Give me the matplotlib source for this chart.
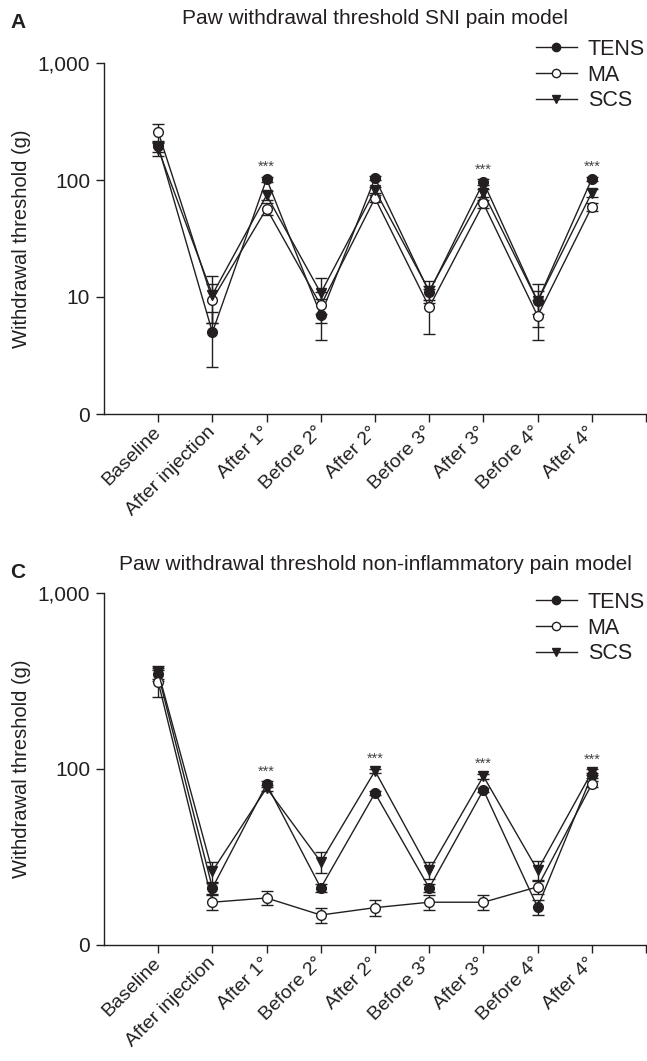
import matplotlib
matplotlib.use('Agg')
import matplotlib.pyplot as plt
from matplotlib.ticker import NullLocator
import numpy as np

plt.rcParams['font.family'] = ['Liberation Sans', 'DejaVu Sans']

labels = ['Baseline', 'After injection', 'After 1°', 'Before 2°', 'After 2°',
          'Before 3°', 'After 3°', 'Before 4°', 'After 4°']

# SNI pain model (panel A)
a_tens = [195, 5.0, 102, 7.0, 104, 11.0, 96, 9.2, 102]
a_tens_err = [20, 2.5, 5, 2.7, 4, 1.5, 5, 2.0, 4]
a_ma = [257, 9.5, 57, 8.5, 70, 8.2, 63, 6.9, 59]
a_ma_err = [45, 3.5, 7, 2.5, 5, 3.4, 5, 2.6, 5]
a_scs = [184, 10.5, 74, 10.8, 82, 11.3, 78, 9.2, 78]
a_scs_err = [25, 4.5, 6, 3.7, 5, 2.5, 6, 3.7, 6]
a_stars = [2, 6, 8]

# non-inflammatory pain model (panel C)
c_tens = [345, 21.1, 82, 21.1, 73, 21.1, 76, 16.4, 92]
c_tens_err = [30, 1.5, 3, 1.0, 2, 1.0, 2, 1.6, 3]
c_ma = [312, 17.5, 18.5, 14.8, 16.3, 17.5, 17.5, 21.4, 82]
c_ma_err = [55, 1.7, 1.7, 1.4, 1.6, 1.7, 1.7, 2.0, 3]
c_scs = [356, 26.3, 78, 29.7, 97.5, 26.6, 91, 26.6, 96]
c_scs_err = [30, 3.5, 3, 4.0, 3, 3.0, 3, 3.5, 4]
c_stars = [2, 4, 6, 8]

ink = '#231f20'
W, H = 647, 1061


def panel(ax, tens, tens_err, ma, ma_err, scs, scs_err, stars, ymin, yticks, yticklabels):
    x = np.arange(len(labels))
    kw = dict(color=ink, lw=1.0, elinewidth=1.0, capsize=4, capthick=1.0, ms=7, mec=ink)
    h1 = ax.errorbar(x, tens, yerr=tens_err, fmt='-o', mfc=ink, **kw)
    h2 = ax.errorbar(x, ma, yerr=ma_err, fmt='-o', mfc='white', **kw)
    h3 = ax.errorbar(x, scs, yerr=scs_err, fmt='-v', mfc=ink, **kw)
    for i in stars:
        top = max(tens[i], ma[i], scs[i])
        ax.annotate('***', (i, top), xytext=(0, 4), textcoords='offset points',
                    ha='center', va='bottom', fontsize=10.5, color='#444444')
    ax.set_yscale('log')
    ax.set_ylim(ymin, 1000)
    ax.set_xlim(-1, 9)
    ax.yaxis.set_minor_locator(NullLocator())
    ax.set_yticks(yticks)
    ax.set_yticklabels(yticklabels, fontsize=15, color=ink)
    ax.set_xticks(np.arange(10))
    ax.set_xticklabels(labels + [''], rotation=45, ha='right', va='center',
                       rotation_mode='anchor', fontsize=14, color=ink)
    ax.spines['top'].set_visible(False)
    ax.spines['right'].set_visible(False)
    for s in ['left', 'bottom']:
        ax.spines[s].set_color(ink)
        ax.spines[s].set_linewidth(1.0)
    ax.tick_params(direction='out', length=6, width=1.0, color=ink, pad=4)
    ax.tick_params(axis='x', pad=5)
    ax.set_ylabel('Withdrawal threshold (g)', fontsize=14.5, color=ink, labelpad=5)
    return [h1[0], h2[0], h3[0]]


fig = plt.figure(figsize=(W / 100, H / 100), dpi=100)
ax_a = fig.add_axes([104 / W, 1 - 414 / H, 542 / W, 351 / H])
ax_c = fig.add_axes([104 / W, 1 - 945 / H, 542 / W, 352 / H])

leg_kw = dict(loc='upper left', frameon=False, borderpad=0, borderaxespad=0, fontsize=15.5,
              handlelength=1.9, handletextpad=0.5, labelspacing=0.22, labelcolor=ink,
              markerscale=0.85)

hs = panel(ax_a, a_tens, a_tens_err, a_ma, a_ma_err, a_scs, a_scs_err, a_stars,
           1, [1, 10, 100, 1000], ['0', '10', '100', '1,000'])
fig.legend(hs, ['TENS', 'MA', 'SCS'], bbox_to_anchor=(536 / W, 1 - 39 / H), **leg_kw)

hs = panel(ax_c, c_tens, c_tens_err, c_ma, c_ma_err, c_scs, c_scs_err, c_stars,
           10, [10, 100, 1000], ['0', '100', '1,000'])
fig.legend(hs, ['TENS', 'MA', 'SCS'], bbox_to_anchor=(536 / W, 1 - 592 / H), **leg_kw)

fig.text(375 / W, 1 - 18 / H, 'Paw withdrawal threshold SNI pain model',
         ha='center', va='center', fontsize=15, color=ink)
fig.text(375 / W, 1 - 565 / H, 'Paw withdrawal threshold non-inflammatory pain model',
         ha='center', va='center', fontsize=15, color=ink)
fig.text(10 / W, 1 - 22 / H, 'A', ha='left', va='center', fontsize=15, weight='bold', color=ink)
fig.text(10 / W, 1 - 572 / H, 'C', ha='left', va='center', fontsize=15, weight='bold', color=ink)

fig.savefig('out.png', dpi=100)
